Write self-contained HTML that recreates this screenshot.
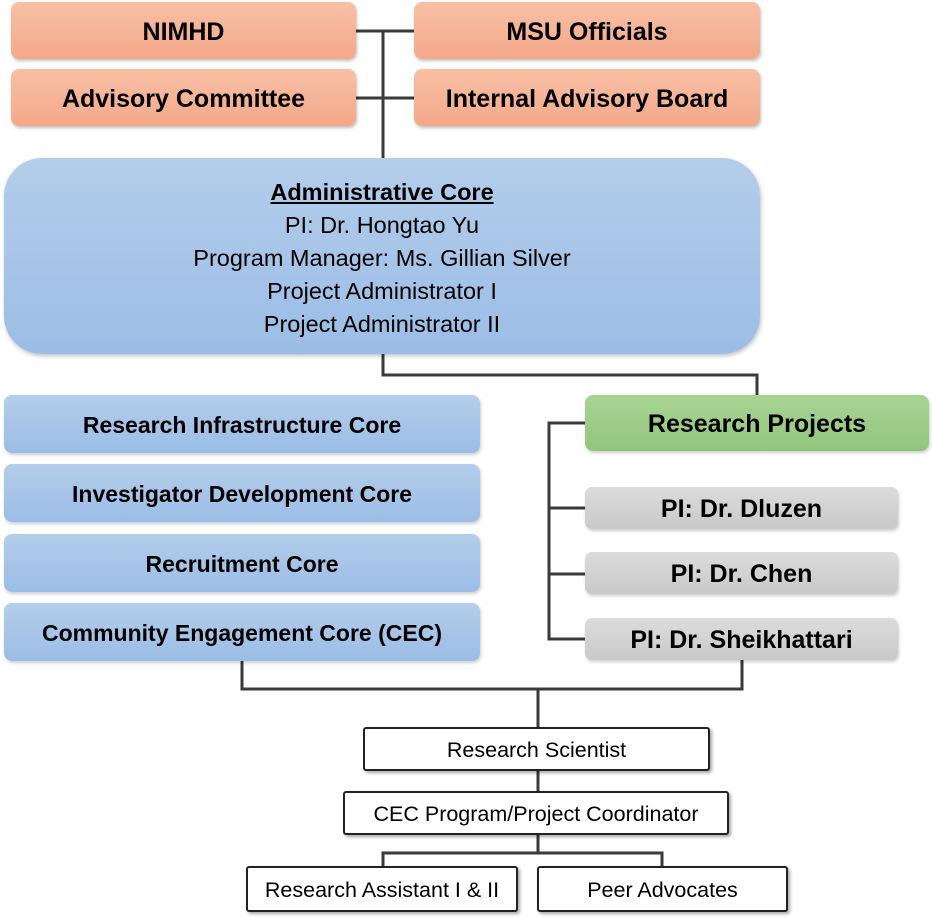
<!DOCTYPE html>
<html><head><style>
body{margin:0;width:932px;height:919px;background:#fff;position:relative;overflow:hidden;font-family:"Liberation Sans",sans-serif}
.b{position:absolute;box-sizing:border-box;display:flex;align-items:center;justify-content:center;text-align:center;color:#000;white-space:nowrap;padding-top:3px}
.o{background:linear-gradient(#f9c0a6,#f3a889);border-radius:8px;font-weight:bold;font-size:25px;box-shadow:1px 2px 3px rgba(0,0,0,.25)}
.bl{background:linear-gradient(#b4cdea,#9bbde6);border-radius:8px;font-weight:bold;font-size:23px;box-shadow:1px 2px 3px rgba(0,0,0,.2)}
.g{background:linear-gradient(#a9d494,#91c57c);border-radius:8px;font-weight:bold;font-size:25px;box-shadow:1px 2px 3px rgba(0,0,0,.2)}
.gr{background:linear-gradient(#dcdcdc,#c9c9c9);border-radius:7px;font-weight:bold;font-size:25px;box-shadow:1px 2px 3px rgba(0,0,0,.2)}
.w{background:#fff;border:2px solid #222;border-radius:3px;font-size:21.5px;box-shadow:2px 2px 3px rgba(0,0,0,.35)}
</style></head><body>
<svg style="position:absolute;left:0;top:0" width="932" height="919">
<g stroke="#3a3a3a" stroke-width="3" fill="none">
<path d="M356 31H414M356 98H414M383 31V158"/>
<path d="M383 354V375H757V395"/>
<path d="M585 423H549V639H585M549 508H585M549 574H585"/>
<path d="M242 661V689H742V660M538 689V727M538 771V791M538 835V853M383 866V853H662V866"/>
</g></svg>
<div class="b o" style="left:11px;top:2px;width:345px;height:57px">NIMHD</div>
<div class="b o" style="left:414px;top:2px;width:346px;height:57px">MSU Officials</div>
<div class="b o" style="left:11px;top:69px;width:345px;height:57px">Advisory Committee</div>
<div class="b o" style="left:414px;top:69px;width:346px;height:57px">Internal Advisory Board</div>
<div class="b" style="left:4px;top:158px;width:756px;height:196px;border-radius:38px;background:linear-gradient(#b4cdea,#9bbde6);box-shadow:1px 2px 4px rgba(0,0,0,.25);font-size:23.5px;line-height:33px;flex-direction:column;padding-top:4px">
<div style="font-weight:bold;text-decoration:underline">Administrative Core</div>
<div>PI: Dr. Hongtao Yu</div><div>Program Manager: Ms. Gillian Silver</div><div>Project Administrator I</div><div>Project Administrator II</div></div>
<div class="b bl" style="left:4px;top:395px;width:476px;height:58px">Research Infrastructure Core</div>
<div class="b bl" style="left:4px;top:464px;width:476px;height:58px">Investigator Development Core</div>
<div class="b bl" style="left:4px;top:534px;width:476px;height:58px">Recruitment Core</div>
<div class="b bl" style="left:4px;top:603px;width:476px;height:58px">Community Engagement Core (CEC)</div>
<div class="b g" style="left:585px;top:395px;width:344px;height:56px">Research Projects</div>
<div class="b gr" style="left:585px;top:487px;width:313px;height:42px">PI: Dr. Dluzen</div>
<div class="b gr" style="left:585px;top:552px;width:313px;height:42px">PI: Dr. Chen</div>
<div class="b gr" style="left:585px;top:618px;width:313px;height:42px">PI: Dr. Sheikhattari</div>
<div class="b w" style="left:363px;top:727px;width:347px;height:44px">Research Scientist</div>
<div class="b w" style="left:343px;top:791px;width:386px;height:44px">CEC Program/Project Coordinator</div>
<div class="b w" style="left:246px;top:866px;width:272px;height:46px">Research Assistant I &amp; II</div>
<div class="b w" style="left:537px;top:866px;width:251px;height:46px">Peer Advocates</div>
</body></html>
